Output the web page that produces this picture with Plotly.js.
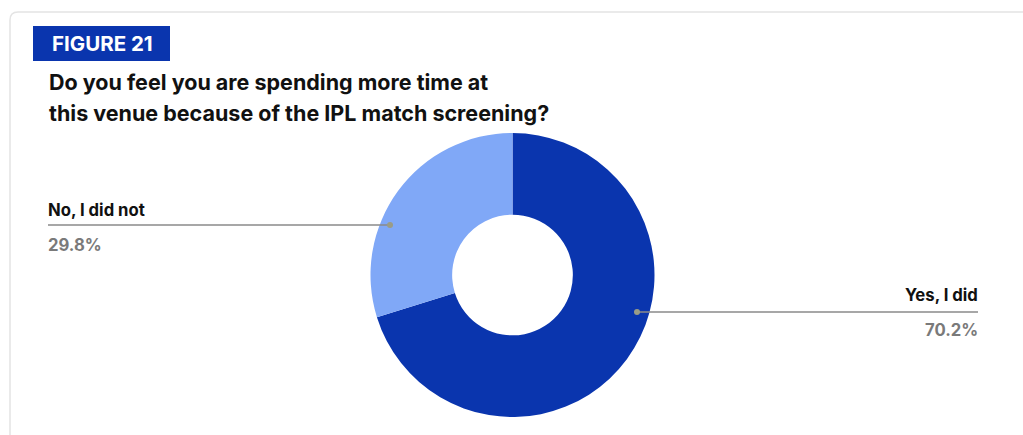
<!DOCTYPE html>
<html>
<head>
<meta charset="utf-8">
<script src="https://cdn.plot.ly/plotly-3.0.1.min.js"></script>
<style>
html,body{margin:0;padding:0;background:#fff;}
#chart{width:1023px;height:435px;}
</style>
</head>
<body>
<div id="chart"></div>
<script>
// ---- data ----
const figureLabel = "FIGURE 21";
const titleLines = ["Do you feel you are spending more time at", "this venue because of the IPL match screening?"];
const categories = ["Yes, I did", "No, I did not"];
const values = [70.2, 29.8];

// ---- helpers (pixel -> paper) ----
const W = 1023, H = 435;
const px = x => x / W;
const py = y => 1 - y / H;

const FONT = "Inter, 'Noto Sans', 'DejaVu Sans', sans-serif";
const darkBlue = "#0a35ae";
const lightBlue = "#80a8f7";

const pct = v => v.toFixed(1) + "%";

const trace = {
  type: "pie",
  labels: categories,
  values: values,
  hole: 0.425,
  sort: false,
  direction: "clockwise",
  rotation: 0,
  textinfo: "none",
  hoverinfo: "label+percent",
  marker: { colors: [darkBlue, lightBlue], line: { width: 0 } },
  domain: { x: [px(370.5), px(654.5)], y: [py(417), py(133)] },
  showlegend: false
};

const shapes = [
  // card border
  { type: "path", xref: "paper", yref: "paper",
    path: `M ${px(10)} ${py(440)} L ${px(10)} ${py(20)} Q ${px(10)} ${py(12)} ${px(18)} ${py(12)} L ${px(1030)} ${py(12)}`,
    line: { color: "#e4e4e4", width: 1.5 } },
  // badge
  { type: "rect", xref: "paper", yref: "paper",
    x0: px(33), x1: px(170), y0: py(61), y1: py(26),
    fillcolor: darkBlue, line: { width: 0 } },
  // leader lines
  { type: "line", xref: "paper", yref: "paper",
    x0: px(48), x1: px(390), y0: py(225), y1: py(225),
    line: { color: "#8a8a8a", width: 1.5 } },
  { type: "line", xref: "paper", yref: "paper",
    x0: px(637), x1: px(978), y0: py(312), y1: py(312),
    line: { color: "#8a8a8a", width: 1.5 } },
  // dots
  { type: "circle", xref: "paper", yref: "paper",
    x0: px(387), x1: px(393), y0: py(228), y1: py(222),
    fillcolor: "#9a9c86", line: { width: 0 } },
  { type: "circle", xref: "paper", yref: "paper",
    x0: px(634), x1: px(640), y0: py(315), y1: py(309),
    fillcolor: "#9a9c86", line: { width: 0 } }
];

const annotations = [
  { text: "<b>" + figureLabel + "</b>", x: px(102), y: py(43), xref: "paper", yref: "paper",
    xanchor: "center", yanchor: "middle", showarrow: false,
    font: { family: FONT, size: 20.5, color: "#ffffff" } },
  { text: "<b>" + titleLines[0] + "</b>", x: px(47), y: py(82), xref: "paper", yref: "paper",
    xanchor: "left", yanchor: "middle", showarrow: false,
    font: { family: FONT, size: 21.5, color: "#111111" } },
  { text: "<b>" + titleLines[1] + "</b>", x: px(47), y: py(113), xref: "paper", yref: "paper",
    xanchor: "left", yanchor: "middle", showarrow: false,
    font: { family: FONT, size: 21.5, color: "#111111" } },
  // No label
  { text: "<b>" + categories[1] + "</b>", x: px(46), y: py(210), xref: "paper", yref: "paper",
    xanchor: "left", yanchor: "middle", showarrow: false,
    font: { family: FONT, size: 16.7, color: "#111111" } },
  { text: "<b>" + pct(values[1]) + "</b>", x: px(46), y: py(245), xref: "paper", yref: "paper",
    xanchor: "left", yanchor: "middle", showarrow: false,
    font: { family: FONT, size: 16.7, color: "#7a7a7a" } },
  // Yes label
  { text: "<b>" + categories[0] + "</b>", x: px(980), y: py(295), xref: "paper", yref: "paper",
    xanchor: "right", yanchor: "middle", showarrow: false,
    font: { family: FONT, size: 16.7, color: "#111111" } },
  { text: "<b>" + pct(values[0]) + "</b>", x: px(980), y: py(330), xref: "paper", yref: "paper",
    xanchor: "right", yanchor: "middle", showarrow: false,
    font: { family: FONT, size: 16.7, color: "#7a7a7a" } }
];

const layout = {
  width: W, height: H,
  margin: { l: 0, r: 0, t: 0, b: 0 },
  paper_bgcolor: "#ffffff",
  plot_bgcolor: "#ffffff",
  showlegend: false,
  shapes: shapes,
  annotations: annotations
};

Plotly.newPlot("chart", [trace], layout, { displayModeBar: false, staticPlot: true });
</script>
</body>
</html>
